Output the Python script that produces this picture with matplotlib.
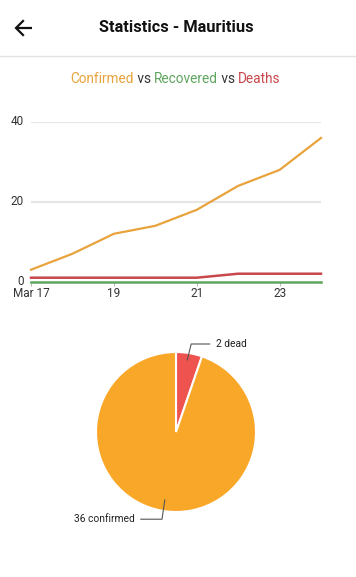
import numpy as np
import matplotlib.pyplot as plt
import matplotlib.transforms as mtrans

plt.rcParams['font.family'] = ['Roboto', 'DejaVu Sans']

# data
days = [17, 18, 19, 20, 21, 22, 23, 24]
confirmed = [3, 7, 12, 14, 18, 24, 28, 36]
recovered = [0, 0, 0, 0, 0, 0, 0, 0]
deaths = [1, 1, 1, 1, 1, 2, 2, 2]
tick_days = [17, 19, 21, 23]
tick_labels = ["Mar 17", "19", "21", "23"]
y_ticks = [0, 20, 40]

pie_values = [2, 36]
pie_labels = ["2 dead", "36 confirmed"]

c_conf = "#E8A33D"
c_rec = "#5FA55F"
c_dead = "#C8484B"
pie_colors = ["#EE5350", "#F9A728"]

W, H = 356, 577
fig = plt.figure(figsize=(W / 100, H / 100), dpi=100)

# overlay for header things, pixel coords
ov = fig.add_axes([0, 0, 1, 1])
ov.set_xlim(0, W)
ov.set_ylim(H, 0)
ov.axis("off")

# back arrow
ov.plot([16, 32], [28, 28], color="#111111", lw=1.6, solid_capstyle="butt")
ov.plot([23, 16, 23], [21, 28, 35], color="#111111", lw=1.6, solid_joinstyle="miter")
ov.text(176, 28, "Statistics - Mauritius", ha="center", va="center",
        fontsize=11.8, fontweight="bold", color="#111111")
ov.plot([0, W], [56, 56], color="#E2E2E2", lw=1)

# coloured subtitle
parts = [("Confirmed", c_conf), (" vs ", "#333333"), ("Recovered", c_rec),
         (" vs ", "#333333"), ("Deaths", c_dead)]
prev = ov.text(70, 79, parts[0][0], color=parts[0][1], fontsize=9.8, va="center", ha="left")
for txt, col in parts[1:]:
    prev = ov.annotate(txt, xy=(1, 0), xycoords=prev, va="bottom", ha="left",
                       color=col, fontsize=9.8)

# line chart
y0, y40 = 281.7, 122
ax = fig.add_axes([31 / W, 1 - y0 / H, 290 / W, (y0 - y40) / H])
ax.set_xlim(17, 24)
ax.set_ylim(0, 40)
for s in ax.spines.values():
    s.set_visible(False)
for yv in y_ticks[1:]:
    ax.axhline(yv, color="#E6E6E6", lw=1.5, zorder=0)
ax.plot(days, confirmed, color=c_conf, lw=1.6, clip_on=False)
ax.plot(days, deaths, color=c_dead, lw=1.8, clip_on=False)
ax.plot(days, recovered, color=c_rec, lw=1.8, clip_on=False)
ax.set_xticks(tick_days)
ax.set_xticklabels(tick_labels)
ax.set_yticks(y_ticks)
ax.set_yticklabels([str(v) for v in y_ticks])
ax.tick_params(axis="x", length=3, width=0.8, color="#BBBBBB", pad=0.5,
               labelsize=8.5, labelcolor="#333333")
ax.tick_params(axis="y", length=0, pad=5, labelsize=8.5, labelcolor="#333333")
shift = mtrans.ScaledTranslation(0, 2 / 100, fig.dpi_scale_trans)
for lbl in ax.get_yticklabels():
    lbl.set_verticalalignment("center_baseline")
    lbl.set_transform(lbl.get_transform() + shift)

# pie chart
r = 80
cx, cy = 176, 432
pax = fig.add_axes([(cx - r) / W, 1 - (cy + r) / H, 2 * r / W, 2 * r / H])
pax.pie(pie_values, colors=pie_colors, startangle=90, counterclock=False,
        wedgeprops=dict(edgecolor="white", linewidth=1.5))
pax.set_xlim(-1, 1)
pax.set_ylim(-1, 1)

# leader lines and labels
pax.plot([0.14, 0.19, 0.42], [0.9, 1.1, 1.1], color="#555555", lw=0.8, clip_on=False)
pax.text(0.5, 1.1, pie_labels[0], ha="left", va="center", fontsize=7.4, color="#222222")
pax.plot([-0.14, -0.175, -0.44], [-0.85, -1.09, -1.09], color="#555555", lw=0.8, clip_on=False)
pax.text(-0.51, -1.09, pie_labels[1], ha="right", va="center", fontsize=7.4, color="#222222")

fig.savefig("out.png", dpi=100)
